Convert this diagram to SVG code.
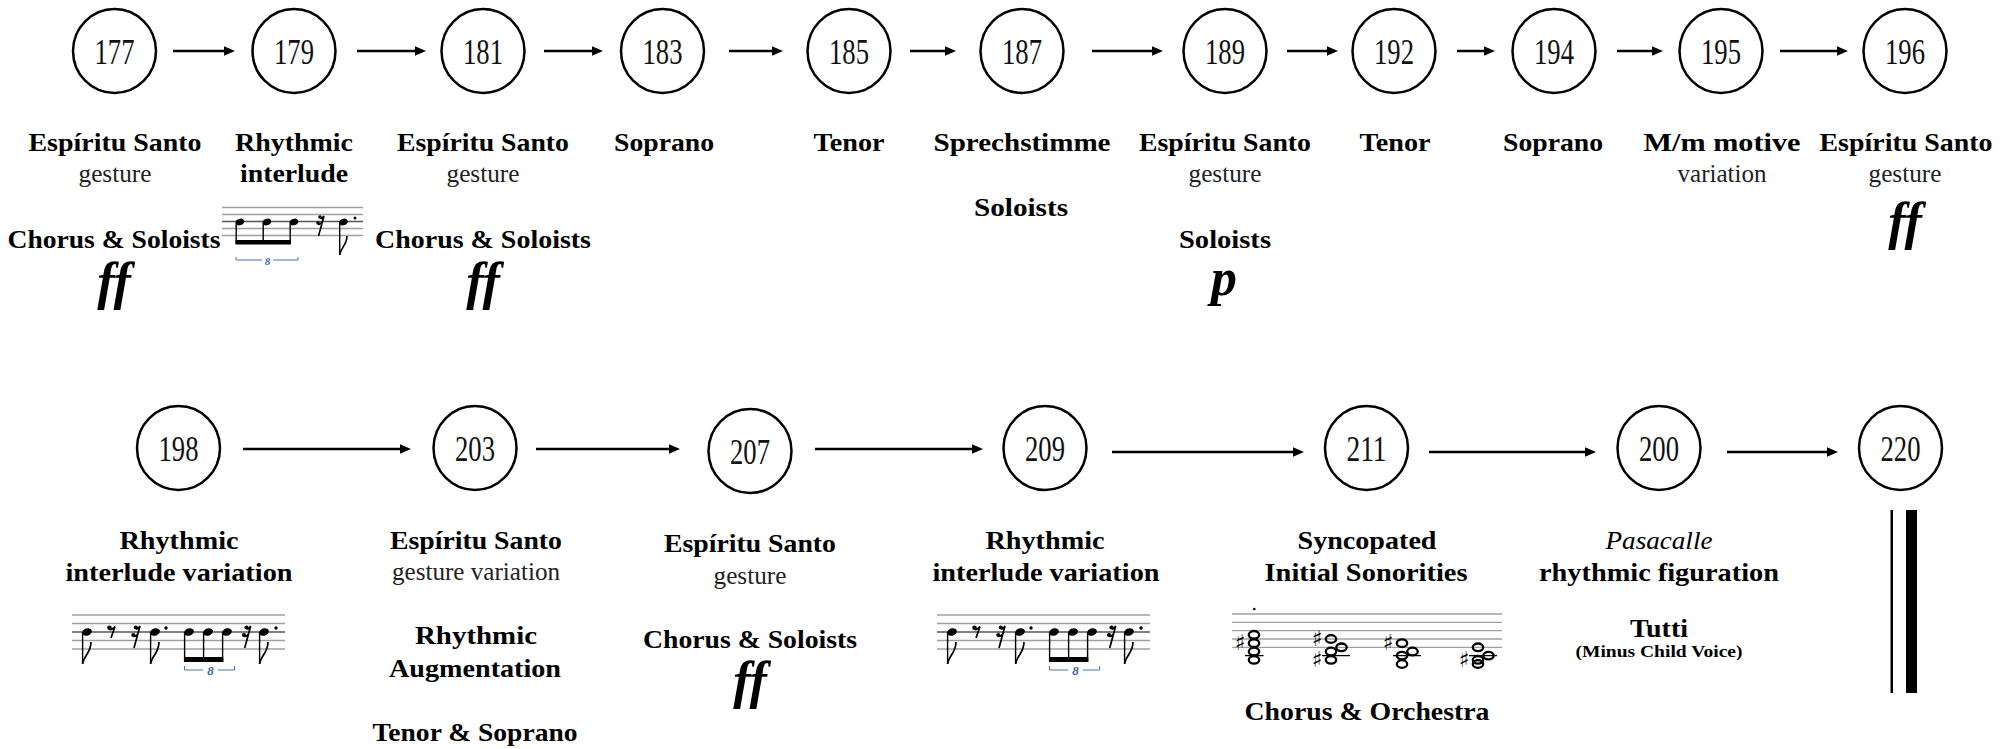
<svg xmlns="http://www.w3.org/2000/svg" xmlns:xlink="http://www.w3.org/1999/xlink" width="2013" height="749" viewBox="0 0 2013 749" font-family="Liberation Serif" text-anchor="middle">
<defs>
<marker id="ah" markerWidth="11" markerHeight="10" refX="3" refY="4.75" orient="auto" markerUnits="userSpaceOnUse">
<path d="M0,0 L11,4.75 L0,9.5 z" fill="#000"/>
</marker>
<ellipse id="nodeCircle" cx="0" cy="0" rx="41.5" ry="42" fill="none" stroke="#000" stroke-width="2.5"/>
<g id="rhythmVar">
<g stroke="#a0a0a0" stroke-width="1.3">
<line x1="72" y1="615" x2="285" y2="615"/>
<line x1="72" y1="623.5" x2="285" y2="623.5"/>
<line x1="72" y1="632" x2="285" y2="632" stroke="#555"/>
<line x1="72" y1="640.5" x2="285" y2="640.5"/>
<line x1="72" y1="649" x2="285" y2="649"/>
</g>
<g fill="#000">
<ellipse cx="87" cy="632" rx="5" ry="3.6" transform="rotate(-20 87 632)"/>
<ellipse cx="155" cy="632" rx="5" ry="3.6" transform="rotate(-20 155 632)"/>
<ellipse cx="189" cy="632" rx="5" ry="3.6" transform="rotate(-20 189 632)"/>
<ellipse cx="208" cy="632" rx="5" ry="3.6" transform="rotate(-20 208 632)"/>
<ellipse cx="227" cy="632" rx="5" ry="3.6" transform="rotate(-20 227 632)"/>
<ellipse cx="264" cy="632" rx="5" ry="3.6" transform="rotate(-20 264 632)"/>
<circle cx="109.5" cy="627.8" r="2.3"/>
<circle cx="135.8" cy="627.5" r="2.1"/>
<circle cx="133.3" cy="635" r="2.1"/>
<circle cx="246.5" cy="627.5" r="2.1"/>
<circle cx="244" cy="635" r="2.1"/>
<circle cx="166" cy="628" r="1.7"/>
<circle cx="276" cy="628" r="1.7"/>
<rect x="184" y="657" width="39.3" height="5"/>
</g>
<g stroke="#000" stroke-width="1.4">
<line x1="82.6" y1="632" x2="82.6" y2="664"/>
<line x1="150.6" y1="632" x2="150.6" y2="664"/>
<line x1="184.6" y1="632" x2="184.6" y2="662"/>
<line x1="203.6" y1="632" x2="203.6" y2="662"/>
<line x1="222.6" y1="632" x2="222.6" y2="662"/>
<line x1="259.6" y1="632" x2="259.6" y2="664"/>
</g>
<g fill="none" stroke="#000" stroke-width="1.7">
<path d="M82.6,664 C83.5,656 91,653 91,642"/>
<path d="M150.6,664 C151.5,656 159,653 159,642"/>
<path d="M259.6,664 C260.5,656 268,653 268,642"/>
<path d="M109.5,629.5 Q112,630 115,626.5 L111,638"/>
<path d="M136,629 Q138.5,629 140,626 L134,648 M133.5,636.5 Q136,636.5 138.2,633.5"/>
<path d="M246.7,629 Q249.2,629 250.7,626 L244.7,648 M244.2,636.5 Q246.7,636.5 248.9,633.5"/>
</g>
<path d="M184.5,666 V670 H203 M218,670 H234.5 V666" fill="none" stroke="#4a74b0" stroke-width="1"/>
<text x="210.5" y="675" font-family="Liberation Serif" font-size="13" font-weight="bold" font-style="italic" fill="#3b64a0">8</text>
</g>
</defs>
<rect width="2013" height="749" fill="#fff"/>

<g id="connectors" stroke="#000" stroke-width="2.5" marker-end="url(#ah)">
<line x1="173" y1="51" x2="227" y2="51"/>
<line x1="357" y1="51" x2="418" y2="51"/>
<line x1="544" y1="51" x2="595" y2="51"/>
<line x1="729" y1="51" x2="775" y2="51"/>
<line x1="910" y1="51" x2="948" y2="51"/>
<line x1="1092" y1="51" x2="1155" y2="51"/>
<line x1="1287" y1="51" x2="1330" y2="51"/>
<line x1="1457" y1="51" x2="1487" y2="51"/>
<line x1="1617" y1="51" x2="1655" y2="51"/>
<line x1="1780" y1="51" x2="1840" y2="51"/>
<line x1="243" y1="449" x2="403" y2="449"/>
<line x1="536" y1="449" x2="672" y2="449"/>
<line x1="815" y1="449" x2="975" y2="449"/>
<line x1="1112" y1="452" x2="1296" y2="452"/>
<line x1="1429" y1="452" x2="1588" y2="452"/>
<line x1="1727" y1="452" x2="1830" y2="452"/>
</g>

<g id="n177">
<use xlink:href="#nodeCircle" href="#nodeCircle" x="114.5" y="51"/>
<text font-family="Liberation Serif" font-size="35" fill="#111" x="114.5" y="64" textLength="40" lengthAdjust="spacingAndGlyphs">177</text>
<text font-family="Liberation Serif" font-weight="bold" font-size="25" x="115" y="151" textLength="173" lengthAdjust="spacingAndGlyphs">Espíritu Santo</text>
<text font-family="Liberation Serif" font-size="25" fill="#222" x="115" y="182" textLength="73" lengthAdjust="spacingAndGlyphs">gesture</text>
<text font-family="Liberation Serif" font-weight="bold" font-size="25" x="114" y="248" textLength="213" lengthAdjust="spacingAndGlyphs">Chorus &amp; Soloists</text>
<text font-family="Liberation Serif" font-weight="bold" font-style="italic" font-size="52" x="114" y="299">ff</text>
</g>

<g id="n179">
<use xlink:href="#nodeCircle" href="#nodeCircle" x="294" y="51"/>
<text font-family="Liberation Serif" font-size="35" fill="#111" x="294" y="64" textLength="40" lengthAdjust="spacingAndGlyphs">179</text>
<text font-family="Liberation Serif" font-weight="bold" font-size="25" x="294" y="151" textLength="118" lengthAdjust="spacingAndGlyphs">Rhythmic</text>
<text font-family="Liberation Serif" font-weight="bold" font-size="25" x="294" y="182" textLength="108" lengthAdjust="spacingAndGlyphs">interlude</text>
<g stroke="#a0a0a0" stroke-width="1.3">
<line x1="222" y1="207.5" x2="363" y2="207.5"/>
<line x1="222" y1="214.5" x2="363" y2="214.5"/>
<line x1="222" y1="221.5" x2="363" y2="221.5" stroke="#555"/>
<line x1="222" y1="228.5" x2="363" y2="228.5"/>
<line x1="222" y1="235.5" x2="363" y2="235.5"/>
</g>
<g fill="#000">
<ellipse cx="240" cy="222" rx="4.3" ry="3.2" transform="rotate(-20 240 222)"/>
<ellipse cx="267" cy="222" rx="4.3" ry="3.2" transform="rotate(-20 267 222)"/>
<ellipse cx="294" cy="222" rx="4.3" ry="3.2" transform="rotate(-20 294 222)"/>
<ellipse cx="343.5" cy="222" rx="4.3" ry="3.2" transform="rotate(-20 343.5 222)"/>
<rect x="235.6" y="240" width="55.3" height="4.5"/>
<circle cx="320" cy="217" r="1.8"/>
<circle cx="318" cy="223" r="1.8"/>
<circle cx="355" cy="218" r="1.5"/>
</g>
<g stroke="#000" stroke-width="1.4">
<line x1="236.2" y1="222" x2="236.2" y2="244"/>
<line x1="263.2" y1="222" x2="263.2" y2="244"/>
<line x1="290.2" y1="222" x2="290.2" y2="244"/>
<line x1="339.7" y1="222" x2="339.7" y2="255"/>
</g>
<g fill="none" stroke="#000" stroke-width="1.6">
<path d="M320.5,218.5 Q322.5,218.5 324,216 L318.5,236 M318,224.5 Q320,224.5 322,222"/>
<path d="M339.7,255 C340.5,248 347,245 347,236"/>
</g>
<path d="M236,257 V260 H262 M273,260 H298 V257" fill="none" stroke="#4a74b0" stroke-width="1"/>
<text font-family="Liberation Serif" font-size="11" font-weight="bold" font-style="italic" fill="#3b64a0" x="267.5" y="264.5">8</text>
</g>

<g id="n181">
<use xlink:href="#nodeCircle" href="#nodeCircle" x="483" y="51"/>
<text font-family="Liberation Serif" font-size="35" fill="#111" x="483" y="64" textLength="40" lengthAdjust="spacingAndGlyphs">181</text>
<text font-family="Liberation Serif" font-weight="bold" font-size="25" x="483" y="151" textLength="172" lengthAdjust="spacingAndGlyphs">Espíritu Santo</text>
<text font-family="Liberation Serif" font-size="25" fill="#222" x="483" y="182" textLength="73" lengthAdjust="spacingAndGlyphs">gesture</text>
<text font-family="Liberation Serif" font-weight="bold" font-size="25" x="483" y="248" textLength="216" lengthAdjust="spacingAndGlyphs">Chorus &amp; Soloists</text>
<text font-family="Liberation Serif" font-weight="bold" font-style="italic" font-size="52" x="483" y="299">ff</text>
</g>

<g id="n183">
<use xlink:href="#nodeCircle" href="#nodeCircle" x="662.5" y="51"/>
<text font-family="Liberation Serif" font-size="35" fill="#111" x="662.5" y="64" textLength="40" lengthAdjust="spacingAndGlyphs">183</text>
<text font-family="Liberation Serif" font-weight="bold" font-size="25" x="664" y="151" textLength="100" lengthAdjust="spacingAndGlyphs">Soprano</text>
</g>

<g id="n185">
<use xlink:href="#nodeCircle" href="#nodeCircle" x="849" y="51"/>
<text font-family="Liberation Serif" font-size="35" fill="#111" x="849" y="64" textLength="40" lengthAdjust="spacingAndGlyphs">185</text>
<text font-family="Liberation Serif" font-weight="bold" font-size="25" x="849" y="151" textLength="71" lengthAdjust="spacingAndGlyphs">Tenor</text>
</g>

<g id="n187">
<use xlink:href="#nodeCircle" href="#nodeCircle" x="1022" y="51"/>
<text font-family="Liberation Serif" font-size="35" fill="#111" x="1022" y="64" textLength="40" lengthAdjust="spacingAndGlyphs">187</text>
<text font-family="Liberation Serif" font-weight="bold" font-size="25" x="1022" y="151" textLength="177" lengthAdjust="spacingAndGlyphs">Sprechstimme</text>
<text font-family="Liberation Serif" font-weight="bold" font-size="25" x="1021" y="216" textLength="94" lengthAdjust="spacingAndGlyphs">Soloists</text>
</g>

<g id="n189">
<use xlink:href="#nodeCircle" href="#nodeCircle" x="1225" y="51"/>
<text font-family="Liberation Serif" font-size="35" fill="#111" x="1225" y="64" textLength="40" lengthAdjust="spacingAndGlyphs">189</text>
<text font-family="Liberation Serif" font-weight="bold" font-size="25" x="1225" y="151" textLength="172" lengthAdjust="spacingAndGlyphs">Espíritu Santo</text>
<text font-family="Liberation Serif" font-size="25" fill="#222" x="1225" y="182" textLength="73" lengthAdjust="spacingAndGlyphs">gesture</text>
<text font-family="Liberation Serif" font-weight="bold" font-size="25" x="1225" y="248" textLength="92" lengthAdjust="spacingAndGlyphs">Soloists</text>
<text font-family="Liberation Serif" font-weight="bold" font-style="italic" font-size="52" x="1224" y="295">p</text>
</g>

<g id="n192">
<use xlink:href="#nodeCircle" href="#nodeCircle" x="1394" y="51"/>
<text font-family="Liberation Serif" font-size="35" fill="#111" x="1394" y="64" textLength="40" lengthAdjust="spacingAndGlyphs">192</text>
<text font-family="Liberation Serif" font-weight="bold" font-size="25" x="1395" y="151" textLength="71" lengthAdjust="spacingAndGlyphs">Tenor</text>
</g>

<g id="n194">
<use xlink:href="#nodeCircle" href="#nodeCircle" x="1554" y="51"/>
<text font-family="Liberation Serif" font-size="35" fill="#111" x="1554" y="64" textLength="40" lengthAdjust="spacingAndGlyphs">194</text>
<text font-family="Liberation Serif" font-weight="bold" font-size="25" x="1553" y="151" textLength="100" lengthAdjust="spacingAndGlyphs">Soprano</text>
</g>

<g id="n195">
<use xlink:href="#nodeCircle" href="#nodeCircle" x="1721" y="51"/>
<text font-family="Liberation Serif" font-size="35" fill="#111" x="1721" y="64" textLength="40" lengthAdjust="spacingAndGlyphs">195</text>
<text font-family="Liberation Serif" font-weight="bold" font-size="25" x="1722" y="151" textLength="157" lengthAdjust="spacingAndGlyphs">M/m motive</text>
<text font-family="Liberation Serif" font-size="25" fill="#222" x="1722" y="182" textLength="89" lengthAdjust="spacingAndGlyphs">variation</text>
</g>

<g id="n196">
<use xlink:href="#nodeCircle" href="#nodeCircle" x="1905" y="51"/>
<text font-family="Liberation Serif" font-size="35" fill="#111" x="1905" y="64" textLength="40" lengthAdjust="spacingAndGlyphs">196</text>
<text font-family="Liberation Serif" font-weight="bold" font-size="25" x="1906" y="151" textLength="173" lengthAdjust="spacingAndGlyphs">Espíritu Santo</text>
<text font-family="Liberation Serif" font-size="25" fill="#222" x="1905" y="182" textLength="73" lengthAdjust="spacingAndGlyphs">gesture</text>
<text font-family="Liberation Serif" font-weight="bold" font-style="italic" font-size="52" x="1905" y="239">ff</text>
</g>

<g id="n198">
<use xlink:href="#nodeCircle" href="#nodeCircle" x="178.5" y="448"/>
<text font-family="Liberation Serif" font-size="35" fill="#111" x="178.5" y="461" textLength="40" lengthAdjust="spacingAndGlyphs">198</text>
<text font-family="Liberation Serif" font-weight="bold" font-size="25" x="179" y="549" textLength="119" lengthAdjust="spacingAndGlyphs">Rhythmic</text>
<text font-family="Liberation Serif" font-weight="bold" font-size="25" x="179" y="581" textLength="227" lengthAdjust="spacingAndGlyphs">interlude variation</text>
<use xlink:href="#rhythmVar" href="#rhythmVar"/>
</g>

<g id="n203">
<use xlink:href="#nodeCircle" href="#nodeCircle" x="475" y="448"/>
<text font-family="Liberation Serif" font-size="35" fill="#111" x="475" y="461" textLength="40" lengthAdjust="spacingAndGlyphs">203</text>
<text font-family="Liberation Serif" font-weight="bold" font-size="25" x="476" y="549" textLength="172" lengthAdjust="spacingAndGlyphs">Espíritu Santo</text>
<text font-family="Liberation Serif" font-size="25" fill="#222" x="476" y="580" textLength="168" lengthAdjust="spacingAndGlyphs">gesture variation</text>
<text font-family="Liberation Serif" font-weight="bold" font-size="25" x="476" y="644" textLength="122" lengthAdjust="spacingAndGlyphs">Rhythmic</text>
<text font-family="Liberation Serif" font-weight="bold" font-size="25" x="475" y="677" textLength="172" lengthAdjust="spacingAndGlyphs">Augmentation</text>
<text font-family="Liberation Serif" font-weight="bold" font-size="25" x="475" y="741" textLength="205" lengthAdjust="spacingAndGlyphs">Tenor &amp; Soprano</text>
</g>

<g id="n207">
<use xlink:href="#nodeCircle" href="#nodeCircle" x="750" y="451"/>
<text font-family="Liberation Serif" font-size="35" fill="#111" x="750" y="464" textLength="40" lengthAdjust="spacingAndGlyphs">207</text>
<text font-family="Liberation Serif" font-weight="bold" font-size="25" x="750" y="552" textLength="172" lengthAdjust="spacingAndGlyphs">Espíritu Santo</text>
<text font-family="Liberation Serif" font-size="25" fill="#222" x="750" y="584" textLength="73" lengthAdjust="spacingAndGlyphs">gesture</text>
<text font-family="Liberation Serif" font-weight="bold" font-size="25" x="750" y="648" textLength="214" lengthAdjust="spacingAndGlyphs">Chorus &amp; Soloists</text>
<text font-family="Liberation Serif" font-weight="bold" font-style="italic" font-size="52" x="750" y="698">ff</text>
</g>

<g id="n209">
<use xlink:href="#nodeCircle" href="#nodeCircle" x="1045" y="448"/>
<text font-family="Liberation Serif" font-size="35" fill="#111" x="1045" y="461" textLength="40" lengthAdjust="spacingAndGlyphs">209</text>
<text font-family="Liberation Serif" font-weight="bold" font-size="25" x="1045" y="549" textLength="119" lengthAdjust="spacingAndGlyphs">Rhythmic</text>
<text font-family="Liberation Serif" font-weight="bold" font-size="25" x="1046" y="581" textLength="227" lengthAdjust="spacingAndGlyphs">interlude variation</text>
<use xlink:href="#rhythmVar" href="#rhythmVar" x="865"/>
</g>

<g id="n211">
<use xlink:href="#nodeCircle" href="#nodeCircle" x="1366.5" y="448"/>
<text font-family="Liberation Serif" font-size="35" fill="#111" x="1366.5" y="461" textLength="40" lengthAdjust="spacingAndGlyphs">211</text>
<text font-family="Liberation Serif" font-weight="bold" font-size="25" x="1367" y="549" textLength="139" lengthAdjust="spacingAndGlyphs">Syncopated</text>
<text font-family="Liberation Serif" font-weight="bold" font-size="25" x="1366" y="581" textLength="203" lengthAdjust="spacingAndGlyphs">Initial Sonorities</text>
<g stroke="#a0a0a0" stroke-width="1.3">
<line x1="1232" y1="614" x2="1502" y2="614"/>
<line x1="1232" y1="622.3" x2="1502" y2="622.3"/>
<line x1="1232" y1="630.7" x2="1502" y2="630.7"/>
<line x1="1232" y1="639" x2="1502" y2="639"/>
<line x1="1232" y1="647.3" x2="1502" y2="647.3"/>
</g>
<circle cx="1254.3" cy="609" r="1.3" fill="#000"/>
<g stroke="#000" stroke-width="1.3">
<line x1="1245" y1="655.6" x2="1263.5" y2="655.6"/>
<line x1="1322" y1="655.6" x2="1350" y2="655.6"/>
<line x1="1393" y1="655.6" x2="1421" y2="655.6"/>
<line x1="1469" y1="655.6" x2="1497" y2="655.6"/>
</g>
<g fill="none" stroke="#000" stroke-width="2.3">
<ellipse cx="1254" cy="634.8" rx="5.2" ry="3.8"/>
<ellipse cx="1254" cy="643.2" rx="5.2" ry="3.8"/>
<ellipse cx="1254" cy="651.5" rx="5.2" ry="3.8"/>
<ellipse cx="1254" cy="659.8" rx="5.2" ry="3.8"/>
<ellipse cx="1331" cy="639" rx="5.2" ry="3.8"/>
<ellipse cx="1341.5" cy="647.3" rx="5.2" ry="3.8"/>
<ellipse cx="1331" cy="651.5" rx="5.2" ry="3.8"/>
<ellipse cx="1331" cy="659.8" rx="5.2" ry="3.8"/>
<ellipse cx="1402" cy="643.2" rx="5.2" ry="3.8"/>
<ellipse cx="1412.5" cy="651.5" rx="5.2" ry="3.8"/>
<ellipse cx="1402" cy="655.6" rx="5.2" ry="3.8"/>
<ellipse cx="1402" cy="664" rx="5.2" ry="3.8"/>
<ellipse cx="1478" cy="647.3" rx="5.2" ry="3.8"/>
<ellipse cx="1488.5" cy="655.6" rx="5.2" ry="3.8"/>
<ellipse cx="1478" cy="659.8" rx="5.2" ry="3.8"/>
<ellipse cx="1478" cy="664" rx="5.2" ry="3.8"/>
</g>
<text font-family="DejaVu Sans" font-size="22" x="1240" y="650">♯</text>
<text font-family="DejaVu Sans" font-size="22" x="1317" y="646">♯</text>
<text font-family="DejaVu Sans" font-size="22" x="1317" y="667">♯</text>
<text font-family="DejaVu Sans" font-size="22" x="1388" y="650">♯</text>
<text font-family="DejaVu Sans" font-size="22" x="1464" y="667">♯</text>
<text font-family="Liberation Serif" font-weight="bold" font-size="25" x="1367" y="720" textLength="245" lengthAdjust="spacingAndGlyphs">Chorus &amp; Orchestra</text>
</g>

<g id="n200">
<use xlink:href="#nodeCircle" href="#nodeCircle" x="1659" y="448"/>
<text font-family="Liberation Serif" font-size="35" fill="#111" x="1659" y="461" textLength="40" lengthAdjust="spacingAndGlyphs">200</text>
<text font-family="Liberation Serif" font-style="italic" font-size="25" x="1659" y="549" textLength="107" lengthAdjust="spacingAndGlyphs">Pasacalle</text>
<text font-family="Liberation Serif" font-weight="bold" font-size="25" x="1659" y="581" textLength="240" lengthAdjust="spacingAndGlyphs">rhythmic figuration</text>
<text font-family="Liberation Serif" font-weight="bold" font-size="25" x="1659" y="637" textLength="58" lengthAdjust="spacingAndGlyphs">Tutti</text>
<text font-family="Liberation Serif" font-weight="bold" font-size="17.5" x="1659" y="657" textLength="167" lengthAdjust="spacingAndGlyphs">(Minus Child Voice)</text>
</g>

<g id="n220">
<use xlink:href="#nodeCircle" href="#nodeCircle" x="1900.5" y="448"/>
<text font-family="Liberation Serif" font-size="35" fill="#111" x="1900.5" y="461" textLength="40" lengthAdjust="spacingAndGlyphs">220</text>
<rect x="1890.5" y="510" width="2.5" height="183" fill="#000"/>
<rect x="1906" y="510" width="11" height="183" fill="#000"/>
</g>
</svg>
